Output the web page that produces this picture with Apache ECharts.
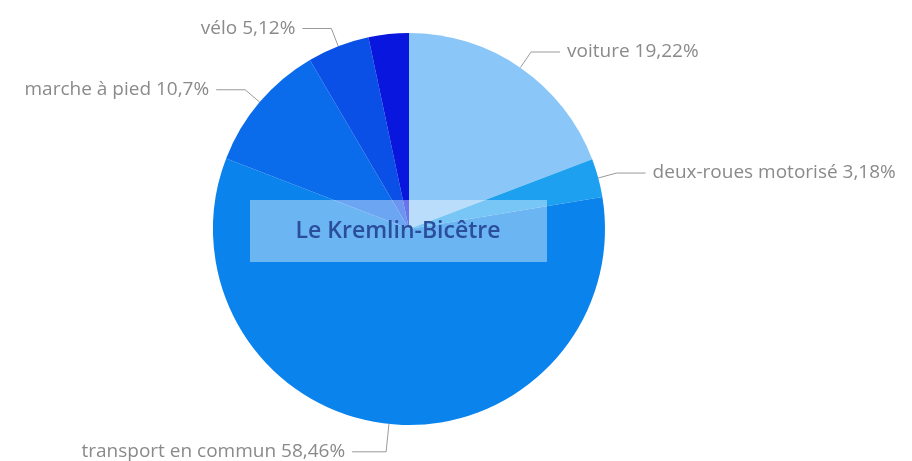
<!DOCTYPE html>
<html>
<head>
<meta charset="utf-8">
<script src="https://cdn.jsdelivr.net/npm/echarts@6/dist/echarts.min.js"></script>
<style>
html,body{margin:0;padding:0;background:#fff;}
#main{width:912px;height:461px;}
</style>
</head>
<body>
<div id="main"></div>
<script>
// parts modales - Le Kremlin-Bicêtre
var modes=["voiture","deux-roues motorisé","transport en commun","marche à pied","vélo","autre"];
var parts=[19.22,3.18,58.46,10.7,5.12,3.32];
var couleurs=["#8ac6f8","#1ea0f0","#0a84ec","#0a6ceb","#0a4fe6","#0816de"];
var commune="Le Kremlin-Bicêtre";

var chart=echarts.init(document.getElementById('main'));
var data=[];
for(var i=0;i<modes.length;i++){
	var d={name:modes[i],value:parts[i],itemStyle:{color:couleurs[i]}};
	if(modes[i]=="autre"){
		d.label={show:false};
		d.labelLine={show:false};
	}
	if(modes[i]=="transport en commun"){
		d.labelLine={length:28,length2:34};
	}
	data.push(d);
}
var option={
	animation:false,
	series:[{
		type:'pie',
		center:[409,229],
		radius:196,
		startAngle:90,
		clockwise:true,
		avoidLabelOverlap:false,
		data:data,
		label:{
			formatter:function(p){return p.name+' '+String(p.value).replace('.',',')+'%';},
			color:'#8a8a8a',
			fontSize:19,
			fontFamily:'Open Sans',
			distanceToLabelLine:7
		},
		labelLine:{length:19,length2:29,lineStyle:{color:'#9a9a9a',width:1}}
	}],
	graphic:[{
		type:'group',
		left:250,
		top:200,
		z:100,
		children:[{
			type:'rect',
			z:100,
			shape:{x:0,y:0,width:297,height:62},
			style:{fill:'rgba(255,255,255,0.4)'}
		},{
			type:'text',
			z:101,
			x:148,
			y:31,
			style:{text:commune,fill:'#2a4d9c',font:'600 23px "Open Sans"',textAlign:'center',textVerticalAlign:'middle'}
		}]
	}]
};
chart.setOption(option);
</script>
</body>
</html>
